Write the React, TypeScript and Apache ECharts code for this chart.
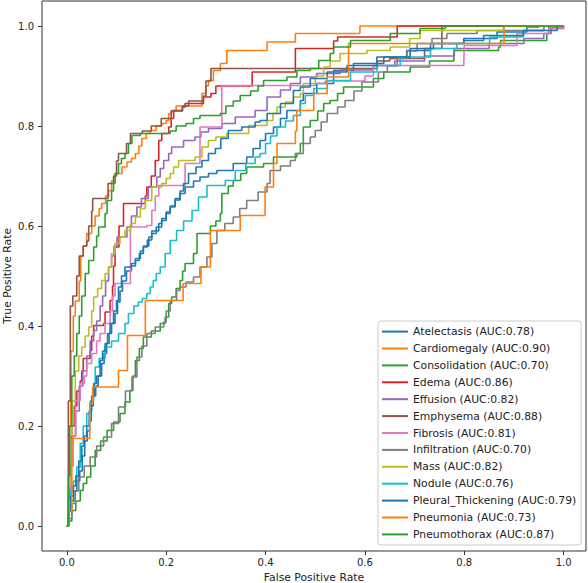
import React, { useEffect, useRef } from "react";
import * as echarts from "echarts";

const FONT = "'DejaVu Sans', sans-serif";

const diseaseNames = [
  "Atelectasis", "Cardiomegaly", "Consolidation", "Edema", "Effusion", "Emphysema", "Fibrosis",
  "Infiltration", "Mass", "Nodule", "Pleural_Thickening", "Pneumonia", "Pneumothorax",
];
const aucValues = [0.78, 0.90, 0.70, 0.86, 0.82, 0.88, 0.81, 0.70, 0.82, 0.76, 0.79, 0.73, 0.87];
const lineColors = [
  "#1f77b4", "#ff7f0e", "#2ca02c", "#d62728", "#9467bd", "#8c564b", "#e377c2",
  "#7f7f7f", "#bcbd22", "#17becf", "#1f77b4", "#ff7f0e", "#2ca02c",
];
const tickValues = [0, 0.2, 0.4, 0.6, 0.8, 1.0];

// ROC points: [false positive rate, true positive rate]
const atelectasis = [[0,0],[0.004,0.03],[0.009,0.05],[0.014,0.07],[0.02,0.09],[0.026,0.11],[0.031,0.14],[0.036,0.17],[0.041,0.19],[0.046,0.21],[0.049,0.24],[0.053,0.26],[0.058,0.28],[0.063,0.3],[0.07,0.325],[0.075,0.345],[0.08,0.365],[0.085,0.385],[0.09,0.405],[0.097,0.425],[0.102,0.448],[0.107,0.47],[0.112,0.49],[0.12,0.51],[0.13,0.52],[0.138,0.531],[0.146,0.545],[0.154,0.558],[0.162,0.572],[0.171,0.585],[0.18,0.598],[0.191,0.611],[0.2,0.625],[0.208,0.638],[0.218,0.652],[0.228,0.665],[0.238,0.678],[0.255,0.69],[0.268,0.698],[0.285,0.705],[0.302,0.711],[0.335,0.725],[0.362,0.738],[0.375,0.755],[0.389,0.771],[0.4,0.785],[0.416,0.798],[0.43,0.815],[0.443,0.831],[0.47,0.851],[0.476,0.865],[0.503,0.885],[0.537,0.911],[0.577,0.925],[0.638,0.938],[0.684,0.951],[0.732,0.965],[0.799,0.975],[0.866,0.988],[0.926,0.998],[0.95,1.0],[1,1]];
const cardiomegaly = [[0,0],[0.004,0.2],[0.008,0.35],[0.013,0.42],[0.017,0.45],[0.025,0.49],[0.028,0.54],[0.033,0.56],[0.04,0.585],[0.05,0.6],[0.057,0.62],[0.065,0.635],[0.07,0.645],[0.078,0.66],[0.084,0.671],[0.09,0.69],[0.097,0.705],[0.111,0.718],[0.121,0.728],[0.13,0.735],[0.138,0.745],[0.145,0.76],[0.151,0.775],[0.16,0.785],[0.168,0.791],[0.18,0.8],[0.191,0.805],[0.2,0.811],[0.205,0.825],[0.211,0.831],[0.22,0.84],[0.272,0.865],[0.28,0.88],[0.285,0.891],[0.295,0.911],[0.309,0.925],[0.322,0.951],[0.403,0.968],[0.46,0.985],[0.59,1.0],[1,1]];
const consolidation = [[0,0],[0.003,0.01],[0.01,0.031],[0.018,0.05],[0.027,0.071],[0.033,0.085],[0.04,0.098],[0.048,0.12],[0.057,0.151],[0.068,0.17],[0.081,0.191],[0.094,0.208],[0.107,0.225],[0.117,0.248],[0.127,0.271],[0.133,0.3],[0.138,0.331],[0.146,0.355],[0.154,0.378],[0.17,0.39],[0.188,0.405],[0.198,0.418],[0.205,0.445],[0.211,0.458],[0.22,0.475],[0.228,0.491],[0.233,0.51],[0.238,0.525],[0.255,0.545],[0.262,0.585],[0.289,0.6],[0.3,0.61],[0.309,0.625],[0.312,0.665],[0.325,0.68],[0.335,0.691],[0.35,0.705],[0.362,0.718],[0.396,0.725],[0.416,0.738],[0.463,0.745],[0.47,0.765],[0.476,0.798],[0.49,0.811],[0.505,0.83],[0.517,0.845],[0.53,0.851],[0.545,0.865],[0.557,0.878],[0.617,0.895],[0.638,0.908],[0.691,0.918],[0.73,0.93],[0.779,0.951],[0.869,0.958],[0.873,0.971],[0.966,0.985],[0.97,0.998],[1,1]];
const edema = [[0,0],[0.002,0.05],[0.005,0.12],[0.01,0.2],[0.015,0.24],[0.02,0.27],[0.027,0.29],[0.03,0.31],[0.033,0.335],[0.047,0.351],[0.05,0.38],[0.054,0.401],[0.074,0.405],[0.077,0.428],[0.087,0.451],[0.092,0.48],[0.094,0.52],[0.097,0.558],[0.105,0.6],[0.114,0.645],[0.158,0.66],[0.161,0.678],[0.17,0.7],[0.178,0.731],[0.185,0.771],[0.191,0.785],[0.205,0.798],[0.21,0.815],[0.215,0.831],[0.232,0.838],[0.238,0.845],[0.275,0.858],[0.29,0.865],[0.3,0.88],[0.373,0.908],[0.46,0.955],[0.537,0.97],[0.545,0.978],[0.665,1.0],[1,1]];
const effusion = [[0,0],[0.003,0.06],[0.007,0.12],[0.012,0.18],[0.018,0.23],[0.025,0.28],[0.032,0.31],[0.04,0.34],[0.047,0.37],[0.054,0.391],[0.06,0.41],[0.067,0.44],[0.072,0.46],[0.078,0.49],[0.084,0.518],[0.09,0.54],[0.095,0.56],[0.101,0.578],[0.121,0.598],[0.13,0.62],[0.141,0.638],[0.15,0.655],[0.164,0.678],[0.181,0.698],[0.188,0.715],[0.195,0.731],[0.205,0.745],[0.211,0.758],[0.235,0.771],[0.258,0.778],[0.27,0.788],[0.285,0.795],[0.312,0.805],[0.339,0.818],[0.379,0.831],[0.403,0.858],[0.43,0.872],[0.45,0.885],[0.47,0.898],[0.503,0.905],[0.55,0.912],[0.617,0.921],[0.66,0.93],[0.72,0.94],[0.78,0.955],[0.85,0.965],[0.92,0.975],[0.96,0.985],[0.975,0.995],[1,1]];
const emphysema = [[0,0],[0.003,0.25],[0.007,0.44],[0.012,0.46],[0.02,0.5],[0.025,0.54],[0.033,0.56],[0.04,0.57],[0.044,0.6],[0.05,0.63],[0.052,0.655],[0.083,0.685],[0.094,0.7],[0.1,0.73],[0.104,0.745],[0.12,0.765],[0.128,0.785],[0.152,0.79],[0.17,0.8],[0.19,0.815],[0.21,0.83],[0.233,0.84],[0.245,0.85],[0.275,0.86],[0.28,0.89],[0.29,0.915],[0.625,0.93],[0.65,0.935],[0.72,0.955],[0.755,1.0],[1,1]];
const fibrosis = [[0,0],[0.003,0.05],[0.007,0.12],[0.012,0.18],[0.017,0.251],[0.027,0.285],[0.035,0.3],[0.04,0.325],[0.05,0.345],[0.06,0.37],[0.067,0.385],[0.077,0.405],[0.087,0.431],[0.092,0.46],[0.097,0.485],[0.128,0.598],[0.161,0.601],[0.171,0.631],[0.178,0.66],[0.185,0.681],[0.238,0.725],[0.268,0.798],[0.312,0.881],[0.5,0.885],[0.52,0.89],[0.6,0.9],[0.617,0.921],[0.799,0.925],[0.8,0.961],[0.906,0.985],[0.97,0.995],[1,1]];
const infiltration = [[0,0],[0.003,0.015],[0.01,0.045],[0.017,0.07],[0.024,0.098],[0.035,0.12],[0.047,0.138],[0.06,0.16],[0.074,0.178],[0.09,0.205],[0.104,0.238],[0.118,0.27],[0.131,0.298],[0.141,0.338],[0.151,0.36],[0.161,0.385],[0.178,0.398],[0.195,0.408],[0.2,0.43],[0.208,0.451],[0.221,0.471],[0.228,0.478],[0.24,0.488],[0.255,0.498],[0.268,0.518],[0.282,0.538],[0.292,0.565],[0.302,0.591],[0.318,0.605],[0.335,0.618],[0.348,0.635],[0.362,0.651],[0.385,0.668],[0.403,0.685],[0.409,0.711],[0.43,0.72],[0.45,0.731],[0.46,0.745],[0.476,0.765],[0.49,0.778],[0.5,0.791],[0.512,0.808],[0.524,0.825],[0.545,0.838],[0.56,0.851],[0.578,0.87],[0.594,0.888],[0.627,0.908],[0.645,0.92],[0.665,0.935],[0.685,0.95],[0.705,0.965],[0.735,0.975],[0.765,0.985],[0.826,0.991],[0.96,1.0],[1,1]];
const mass = [[0,0],[0.003,0.08],[0.006,0.18],[0.01,0.25],[0.017,0.31],[0.024,0.34],[0.03,0.358],[0.037,0.38],[0.044,0.398],[0.05,0.43],[0.054,0.458],[0.062,0.475],[0.07,0.491],[0.077,0.505],[0.084,0.518],[0.09,0.545],[0.097,0.565],[0.107,0.578],[0.117,0.591],[0.128,0.605],[0.138,0.618],[0.148,0.635],[0.158,0.651],[0.171,0.678],[0.191,0.685],[0.2,0.695],[0.208,0.705],[0.215,0.718],[0.225,0.731],[0.258,0.738],[0.272,0.758],[0.285,0.771],[0.3,0.778],[0.322,0.785],[0.366,0.801],[0.403,0.811],[0.415,0.825],[0.423,0.838],[0.44,0.848],[0.456,0.858],[0.47,0.865],[0.476,0.885],[0.5,0.9],[0.517,0.918],[0.53,0.93],[0.55,0.945],[0.604,0.951],[0.651,0.958],[0.69,0.975],[0.711,0.991],[0.879,1.0],[1,1]];
const nodule = [[0,0],[0.003,0.04],[0.008,0.07],[0.013,0.09],[0.02,0.118],[0.027,0.165],[0.033,0.2],[0.04,0.225],[0.047,0.25],[0.054,0.285],[0.057,0.318],[0.065,0.335],[0.077,0.358],[0.09,0.37],[0.104,0.385],[0.117,0.405],[0.124,0.425],[0.135,0.44],[0.144,0.448],[0.152,0.455],[0.161,0.465],[0.168,0.478],[0.174,0.491],[0.18,0.505],[0.188,0.518],[0.198,0.545],[0.208,0.571],[0.221,0.591],[0.235,0.61],[0.252,0.631],[0.265,0.658],[0.282,0.681],[0.319,0.691],[0.339,0.711],[0.36,0.725],[0.379,0.738],[0.389,0.745],[0.4,0.765],[0.41,0.78],[0.423,0.798],[0.44,0.81],[0.456,0.821],[0.47,0.845],[0.48,0.861],[0.497,0.875],[0.524,0.891],[0.571,0.908],[0.624,0.921],[0.671,0.938],[0.732,0.955],[0.785,0.965],[0.851,0.978],[0.919,0.991],[0.96,1.0],[1,1]];
const pleuralThickening = [[0,0],[0.003,0.03],[0.008,0.06],[0.013,0.08],[0.018,0.1],[0.024,0.13],[0.03,0.16],[0.035,0.18],[0.04,0.2],[0.045,0.23],[0.05,0.26],[0.055,0.285],[0.06,0.3],[0.067,0.331],[0.072,0.35],[0.077,0.365],[0.082,0.385],[0.087,0.405],[0.094,0.43],[0.1,0.451],[0.104,0.478],[0.11,0.5],[0.117,0.518],[0.13,0.525],[0.138,0.535],[0.148,0.55],[0.154,0.56],[0.165,0.578],[0.171,0.59],[0.185,0.605],[0.191,0.615],[0.2,0.628],[0.208,0.64],[0.218,0.655],[0.228,0.67],[0.235,0.685],[0.245,0.705],[0.26,0.718],[0.272,0.731],[0.285,0.745],[0.299,0.755],[0.31,0.775],[0.325,0.791],[0.352,0.798],[0.379,0.808],[0.389,0.811],[0.403,0.825],[0.43,0.845],[0.456,0.871],[0.47,0.878],[0.49,0.895],[0.524,0.908],[0.564,0.921],[0.624,0.938],[0.691,0.955],[0.738,0.965],[0.799,0.971],[0.839,0.981],[0.919,0.991],[0.987,1.0],[1,1]];
const pneumonia = [[0,0],[0.003,0.03],[0.01,0.175],[0.046,0.245],[0.052,0.278],[0.104,0.311],[0.122,0.381],[0.158,0.451],[0.234,0.485],[0.27,0.518],[0.289,0.591],[0.349,0.621],[0.399,0.678],[0.416,0.725],[0.423,0.765],[0.46,0.79],[0.463,0.831],[0.497,0.865],[0.524,0.898],[0.567,0.965],[0.88,1.0],[1,1]];
const pneumothorax = [[0,0],[0.003,0.1],[0.006,0.2],[0.01,0.3],[0.015,0.34],[0.02,0.385],[0.025,0.42],[0.03,0.46],[0.037,0.505],[0.044,0.531],[0.054,0.558],[0.06,0.58],[0.064,0.598],[0.077,0.625],[0.081,0.651],[0.09,0.67],[0.094,0.685],[0.097,0.705],[0.104,0.725],[0.11,0.735],[0.117,0.745],[0.124,0.765],[0.131,0.781],[0.148,0.785],[0.208,0.79],[0.22,0.8],[0.24,0.805],[0.255,0.815],[0.268,0.821],[0.309,0.825],[0.32,0.84],[0.335,0.85],[0.349,0.861],[0.37,0.87],[0.385,0.88],[0.396,0.891],[0.443,0.898],[0.463,0.911],[0.49,0.915],[0.507,0.931],[0.53,0.945],[0.537,0.958],[0.571,0.971],[0.651,0.985],[0.711,0.995],[0.762,1.0],[1,1]];

const curves = [
  atelectasis, cardiomegaly, consolidation, edema, effusion, emphysema, fibrosis,
  infiltration, mass, nodule, pleuralThickening, pneumonia, pneumothorax,
];

export default function App() {
  const ref = useRef<HTMLDivElement>(null);
  useEffect(() => {
    if (!ref.current) return;
    const chart = echarts.init(ref.current, undefined, { renderer: "svg" });
    const labels = diseaseNames.map((n, i) => `${n} (AUC:${aucValues[i].toFixed(2)})`);
    chart.setOption({
      animation: false,
      backgroundColor: "#ffffff",
      textStyle: { fontFamily: FONT },
      grid: {
        left: 42, top: 1, width: 544, height: 550,
        show: true, borderColor: "#333333", borderWidth: 1, backgroundColor: "#ffffff",
        containLabel: false,
        outerBoundsMode: "none",
      },
      xAxis: {
        type: "value", min: -0.05, max: 1.045,
        name: "False Positive Rate", nameLocation: "middle", nameGap: 21,
        nameMoveOverlap: false,
        nameTextStyle: { fontFamily: FONT, fontSize: 10.8, color: "#222" },
        axisLine: { show: false, onZero: false },
        splitLine: { show: false },
        axisTick: { show: true, inside: false, length: 4, customValues: tickValues, lineStyle: { color: "#333", width: 1 } },
        axisLabel: { customValues: tickValues, margin: 6, fontFamily: FONT, fontSize: 10, color: "#222", formatter: (v: number) => v.toFixed(1) },
      },
      yAxis: {
        type: "value", min: -0.05, max: 1.05,
        name: "True Positive Rate", nameLocation: "middle", nameGap: 29, nameRotate: 90,
        nameMoveOverlap: false,
        nameTextStyle: { fontFamily: FONT, fontSize: 10.8, color: "#222" },
        axisLine: { show: false, onZero: false },
        splitLine: { show: false },
        axisTick: { show: true, inside: false, length: 4, customValues: tickValues, lineStyle: { color: "#333", width: 1 } },
        axisLabel: { customValues: tickValues, margin: 8, fontFamily: FONT, fontSize: 10, color: "#222", formatter: (v: number) => v.toFixed(1) },
      },
      legend: {
        orient: "vertical", left: 378, top: 321,
        padding: [3.6, 5, 3.6, 3],
        itemGap: 2.9, itemWidth: 26, itemHeight: 14,
        backgroundColor: "rgba(255,255,255,0.8)",
        borderColor: "#cccccc", borderWidth: 1, borderRadius: 3,
        itemStyle: { opacity: 0 },
        lineStyle: { width: 2 },
        textStyle: { fontFamily: FONT, fontSize: 10.8, color: "#222", lineHeight: 14 },
        data: labels,
        selectedMode: false,
      },
      series: curves.map((pts, i) => ({
        name: labels[i],
        type: "line",
        step: "end",
        data: pts,
        symbol: "none",
        silent: true,
        color: lineColors[i],
        lineStyle: { color: lineColors[i], width: 1.6 },
        emphasis: { disabled: true },
      })),
    });
    return () => chart.dispose();
  }, []);
  return <div ref={ref} style={{ position: "fixed", left: 0, top: 0, width: 588, height: 583 }} />;
}
